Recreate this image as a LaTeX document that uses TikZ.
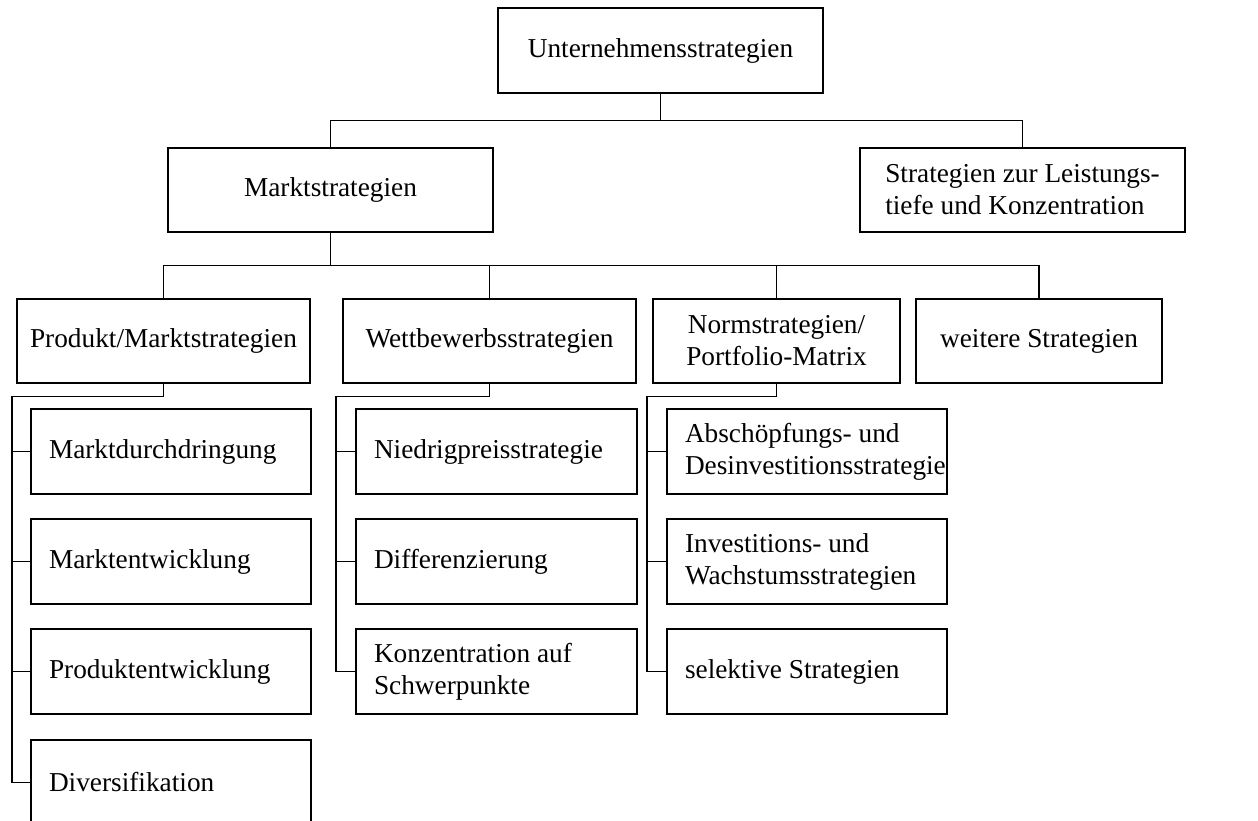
\documentclass[tikz,border=0pt]{standalone}
\usepackage{fontspec}
\setmainfont{Liberation Serif}
\usetikzlibrary{positioning}

\begin{document}
\begin{tikzpicture}[x=1pt,y=-1pt,line width=1.4pt,
  font=\fontsize{27.3}{32}\selectfont,
  box/.style={draw,minimum height=84pt,inner sep=0pt,align=center},
  sub/.style={draw,minimum height=85pt,inner xsep=18pt,inner ysep=0pt,
    text width=#1,align=flush left},
  sub/.default=244pt]
  \useasboundingbox (0,0) rectangle (1258,820);

  % ebenen 1 und 2
  \node[box,minimum width=325pt,minimum height=85pt] (top) at (660.5,50.5) {Unternehmensstrategien};
  \node[box,minimum width=325pt] (markt) at (330.5,190) {Marktstrategien};
  \node[box,minimum width=325pt,align=left] (leist) at (1022.5,190)
    {Strategien zur Leistungs-\\tiefe und Konzentration};

  % ebene 3
  \node[box,minimum width=293pt] (prod) at (163.5,341) {Produkt/Marktstrategien};
  \node[box,minimum width=293pt] (wett) at (489.5,341) {Wettbewerbsstrategien};
  \node[box,minimum width=247pt] (norm) at (776.5,341) {Normstrategien/\\Portfolio-Matrix};
  \node[box,minimum width=246pt] (weit) at (1039,341) {weitere Strategien};

  % unterstrategien
  \node[sub] (p1) at (171,451.5) {Marktdurchdringung};
  \node[sub] (p2) at (171,561.5) {Marktentwicklung};
  \node[sub] (p3) at (171,671.5) {Produktentwicklung};
  \node[sub] (p4) at (171,782.5) {Diversifikation};
  \node[sub=245pt] (w1) at (496.5,451.5) {Niedrigpreisstrategie};
  \node[sub=245pt] (w2) at (496.5,561.5) {Differenzierung};
  \node[sub=245pt] (w3) at (496.5,671.5) {Konzentration auf\\Schwerpunkte};
  \node[sub] (n1) at (807,451.5) {Abschöpfungs- und\\Desinvestitionsstrategie};
  \node[sub] (n2) at (807,561.5) {Investitions- und\\Wachstumsstrategien};
  \node[sub] (n3) at (807,671.5) {selektive Strategien};

  % verbindungen
  \coordinate (bus1) at (0,120.5);
  \coordinate (bus2) at (0,265.5);
  \draw (top.south) -- (top.south |- bus1);
  \draw (markt.north) -- (markt.north |- bus1) -- (leist.north |- bus1) -- (leist.north);
  \draw (markt.south) -- (markt.south |- bus2);
  \draw (prod.north) -- (prod.north |- bus2) -- (weit.north |- bus2) -- (weit.north);
  \foreach \n in {wett,norm} \draw (\n.north) -- (\n.north |- bus2);

  \coordinate (sp) at (12,396.5);
  \coordinate (sw) at (336,396.5);
  \coordinate (sn) at (647,396.5);
  \foreach \p/\s/\last in {prod/sp/p4, wett/sw/w3, norm/sn/n3}
    \draw (\p.south) -- (\p.south |- \s) -- (\s) -- (\s |- \last.west) -- (\last.west);
  \foreach \c/\s in {p1/sp,p2/sp,p3/sp,w1/sw,w2/sw,n1/sn,n2/sn}
    \draw (\c.west) -- (\c.west -| \s);
\end{tikzpicture}
\end{document}
